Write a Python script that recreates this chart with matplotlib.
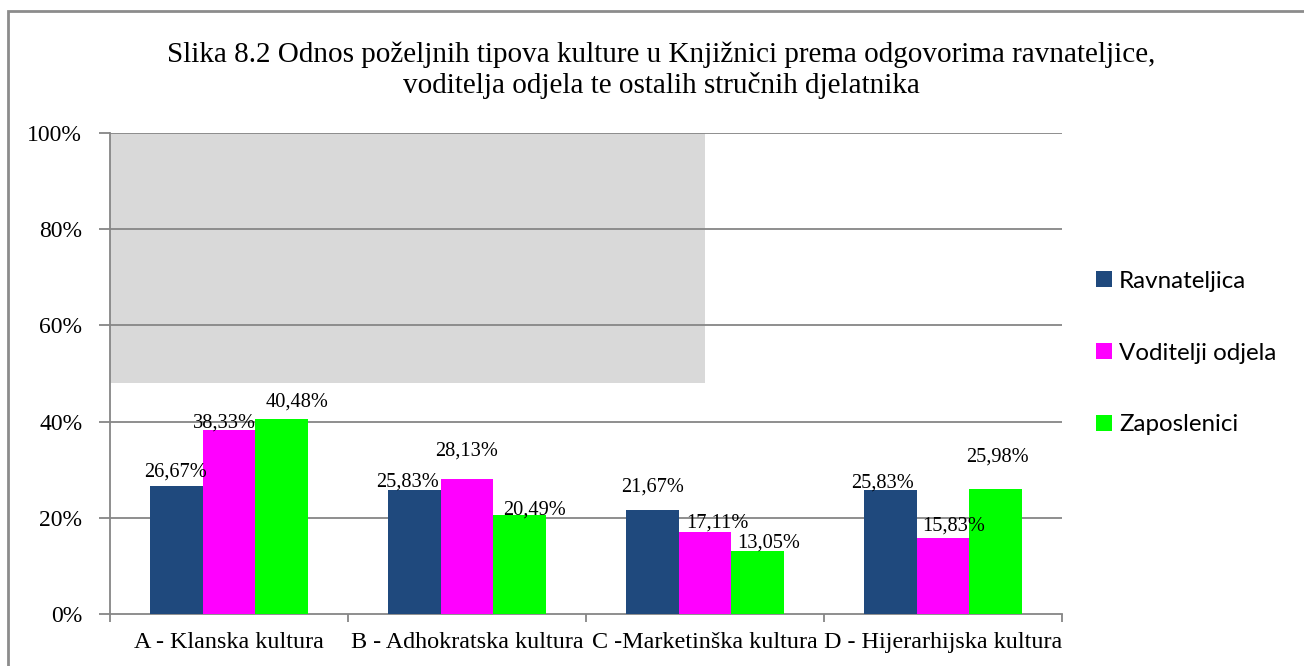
import numpy as np
import matplotlib
matplotlib.use('Agg')
from matplotlib import pyplot as plt
from matplotlib.patches import Rectangle

# data
categories=['A - Klanska kultura', 'B - Adhokratska kultura', 'C -Marketinška kultura', 'D - Hijerarhijska kultura']
series=['Ravnateljica', 'Voditelji odjela', 'Zaposlenici']
ravnateljica=[26.67, 25.83, 21.67, 25.83]
voditelji=[38.33, 28.13, 17.11, 15.83]
zaposlenici=[40.48, 20.49, 13.05, 25.98]
yticks=[0, 20, 40, 60, 80, 100]
title='Slika 8.2 Odnos poželjnih tipova kulture u Knjižnici prema odgovorima ravnateljice,\nvoditelja odjela te ostalih stručnih djelatnika'

colors=['#1F497D', '#FF00FF', '#00FF00']
# label nudges in pixels (dx right, dy up) like excel placed them
nudges=[[(-1,14),(-7,8),(0,23),(-8,7)],
        [(-5,7),(0,28),(12,9),(11,12)],
        [(15,17),(15,5),(11,8),(2,32)]]

serif='Liberation Serif'
grid='#868686'

fig=plt.figure(figsize=(13.04,6.66), dpi=100)
ax=fig.add_axes([110/1304, 52/666, 952/1304, 481/666])

x=np.arange(len(categories))
w=0.222
data=[ravnateljica, voditelji, zaposlenici]
for k in range(3):
    xs=x+(k-1)*w
    ax.bar(xs, data[k], w, color=colors[k], label=series[k], zorder=3)
    for i in range(len(xs)):
        dx,dy=nudges[k][i]
        ax.annotate(('%.2f%%' % data[k][i]).replace('.',','), (xs[i], data[k][i]),
                    xytext=(dx*0.72, dy*0.72), textcoords='offset points',
                    ha='center', va='center', fontsize=14.7, family=serif, zorder=4)

# grey box sitting behind the upper left part
ax.add_patch(Rectangle((-0.5,48), 2.5, 52, facecolor='#D9D9D9', edgecolor='none', zorder=0))

ax.set_xlim(-0.5, 3.5)
ax.set_ylim(0, 100)
ax.set_yticks(yticks)
ax.set_yticklabels(['%d%%' % t for t in yticks], family=serif, fontsize=17)
ax.set_xticks(x)
ax.set_xticklabels(categories, family=serif, fontsize=17.4)
ax.set_xticks(np.arange(-0.5, 4, 1), minor=True)
ax.tick_params(axis='x', which='major', length=0, pad=13)
ax.tick_params(axis='x', which='minor', length=6, color=grid, width=1.3)
ax.tick_params(axis='y', length=8, color=grid, width=1.3, pad=12)
for g in yticks[1:]:
    ax.axhline(g, color=grid, lw=1.3, zorder=1)
for s in ['top','right']:
    ax.spines[s].set_visible(False)
for s in ['left','bottom']:
    ax.spines[s].set_color(grid)
    ax.spines[s].set_linewidth(1.3)

fig.text(661/1304, 1-70/666, title, ha='center', va='center', fontsize=21, family=serif, linespacing=1.2)

ax.legend(loc='center left', bbox_to_anchor=(1096/1304, 1-353/666), bbox_transform=fig.transFigure,
          frameon=False, prop={'family':'Lato','size':17.4}, handlelength=0.66, handleheight=0.66,
          handletextpad=0.3, labelspacing=2.1, borderpad=0, borderaxespad=0)

# outer chart border
fig.patches.append(Rectangle((8/1304, -0.1), 1.2, 1-11/666+0.1, transform=fig.transFigure,
                             fill=False, edgecolor='#8C8C8C', lw=2))

plt.savefig('out.png', dpi=100)
